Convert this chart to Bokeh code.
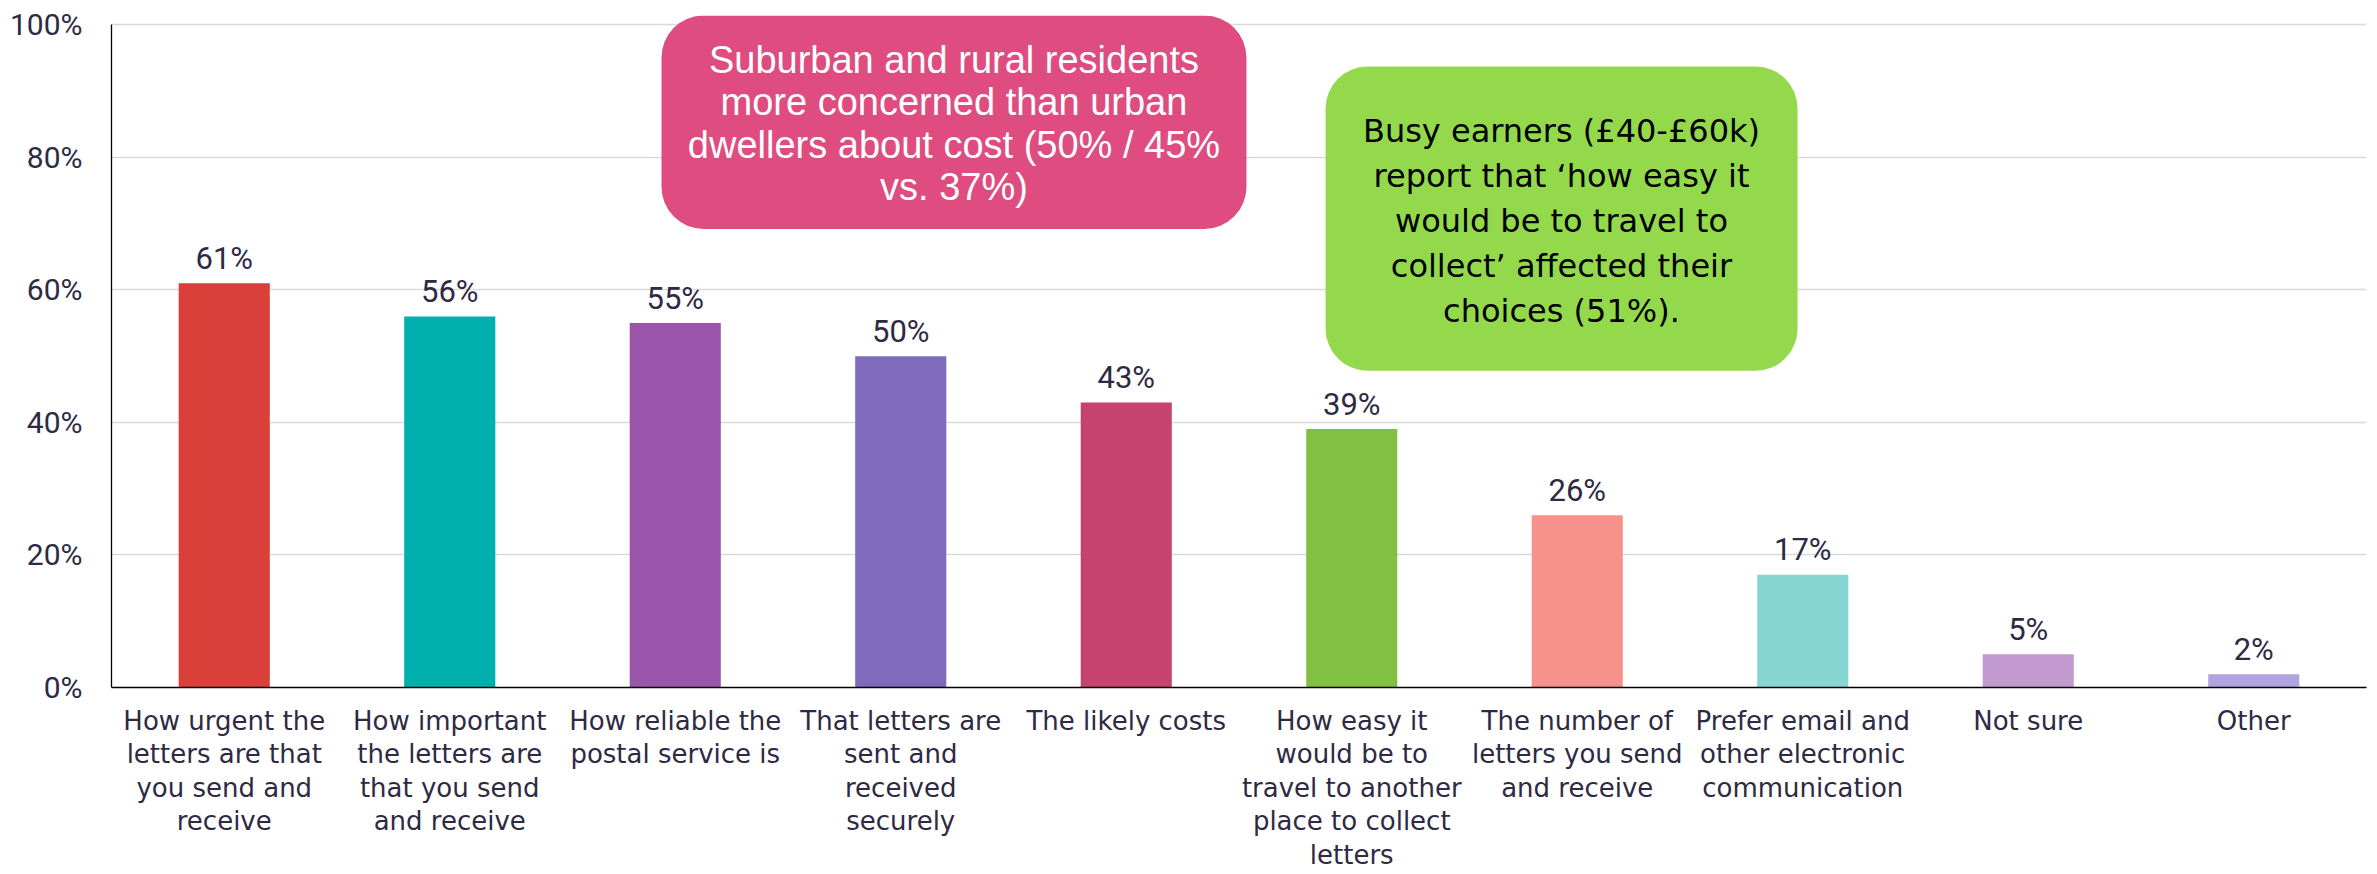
from bokeh.plotting import figure
from bokeh.models import (FactorRange, Range1d, FixedTicker, PrintfTickFormatter,
                          BoxAnnotation, ColumnDataSource)
from bokeh.core.properties import value
from bokeh.embed import file_html
from bokeh.resources import INLINE

# ---- data ----
categories = [
    "How urgent the\nletters are that\nyou send and\nreceive",
    "How important\nthe letters are\nthat you send\nand receive",
    "How reliable the\npostal service is",
    "That letters are\nsent and\nreceived\nsecurely",
    "The likely costs",
    "How easy it\nwould be to\ntravel to another\nplace to collect\nletters",
    "The number of\nletters you send\nand receive",
    "Prefer email and\nother electronic\ncommunication",
    "Not sure",
    "Other",
]
values = [61, 56, 55, 50, 43, 39, 26, 17, 5, 2]
bar_colors = ["#D9403A", "#00B0AD", "#9A55AA", "#7F6ABB", "#C5436F",
              "#82C041", "#F7918B", "#86D6D4", "#C39AD0", "#B1A4E0"]
y_ticks = [0, 20, 40, 60, 80, 100]

note_pink = "Suburban and rural residents\nmore concerned than urban\ndwellers about cost (50% / 45%\nvs. 37%)"
note_green = "Busy earners (\u00a340-\u00a360k)\nreport that \u2018how easy it\nwould be to travel to\ncollect\u2019 affected their\nchoices (51%)."

TEXT = "#2E2A44"
NUM_FONT = "Roboto"

src = ColumnDataSource(dict(
    cat=categories, val=values, color=bar_colors,
    lab=[f"{v}%" for v in values],
))

p = figure(
    x_range=FactorRange(factors=categories, range_padding=0),
    y_range=Range1d(0, 101.4),
    width=2377, height=874,
    min_border_left=111, min_border_right=11, min_border_top=15, min_border_bottom=187,
    output_backend="svg", toolbar_location=None,
)
p.outline_line_color = None
p.background_fill_color = "white"

# callout boxes (under glyphs, above grid)
pink_box = BoxAnnotation(left=2.439, right=5.033, top=101.4, bottom=69.2,
                         fill_color="#DE4C80", fill_alpha=1.0, line_color=None,
                         border_radius=42, level="underlay")
green_box = BoxAnnotation(left=5.384, right=7.477, top=93.7, bottom=47.8,
                          fill_color="#93D94B", fill_alpha=1.0, line_color=None,
                          border_radius=42, level="underlay")
p.add_layout(pink_box)
p.add_layout(green_box)

p.vbar(x="cat", top="val", width=0.404, color="color", source=src, line_color=None)

p.text(x="cat", y="val", text="lab", source=src,
       text_align="center", text_baseline="alphabetic", y_offset=-25,
       text_font=value(NUM_FONT), text_font_size="31px",
       text_color=TEXT)

p.text(x=[3.736], y=[85.1], text=[note_pink], text_align="center", text_baseline="middle",
       text_font=value("Liberation Sans"), text_font_size="38px",
       text_color="white", text_line_height=1.008)
p.text(x=[6.43], y=[70.4], text=[note_green], text_align="center", text_baseline="middle",
       text_font=value("DejaVu Sans"), text_font_size="32px",
       text_color="black", text_line_height=1.18)

# axes
p.yaxis.ticker = FixedTicker(ticks=y_ticks)
p.yaxis.formatter = PrintfTickFormatter(format="%d%%")
p.yaxis.bounds = (0, 100)
p.yaxis.axis_line_color = "black"
p.yaxis.axis_line_width = 1.3
p.yaxis.major_tick_line_color = None
p.yaxis.minor_tick_line_color = None
p.yaxis.major_tick_in = 0
p.yaxis.major_tick_out = 0
p.yaxis.major_label_standoff = 29
p.yaxis.major_label_text_font = NUM_FONT
p.yaxis.major_label_text_font_size = "30px"
p.yaxis.major_label_text_color = TEXT

p.xaxis.axis_line_color = "black"
p.xaxis.axis_line_width = 1.3
p.xaxis.major_tick_line_color = None
p.xaxis.minor_tick_line_color = None
p.xaxis.major_tick_in = 0
p.xaxis.major_tick_out = 0
p.xaxis.major_label_standoff = 18
p.xaxis.major_label_text_font = "DejaVu Sans"
p.xaxis.major_label_text_font_size = "26px"
p.xaxis.major_label_text_line_height = 1.12
p.xaxis.major_label_text_color = TEXT
p.xaxis.major_label_orientation = "horizontal"

p.xgrid.grid_line_color = None
p.ygrid.grid_line_color = "#D9D9D9"
p.ygrid.grid_line_width = 1.3
p.ygrid.ticker = FixedTicker(ticks=y_ticks[1:])

open("out.html", "w").write(file_html(p, INLINE))
